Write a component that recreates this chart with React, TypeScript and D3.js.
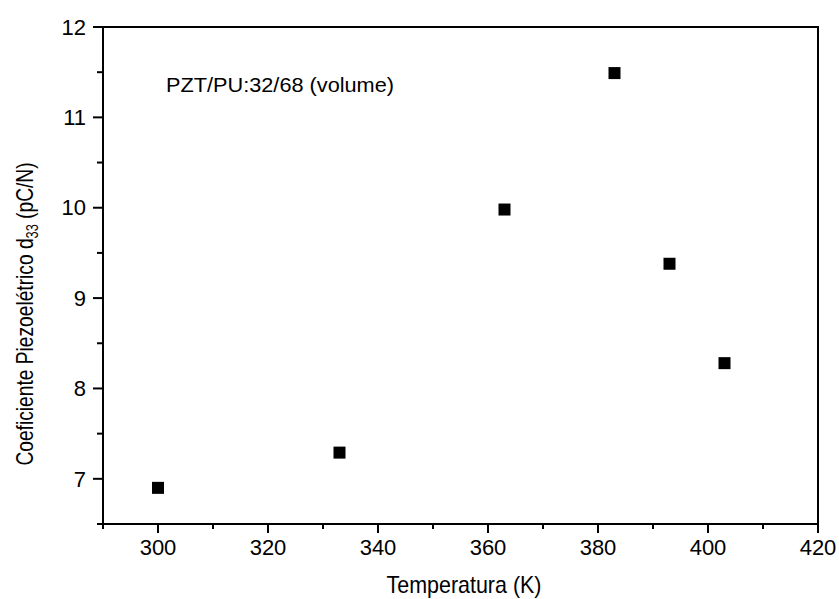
import React from 'react'
import * as d3 from 'd3'

// temperatura (K) e d33 (pC/N)
const TEMPERATURES = [300, 333, 363, 383, 393, 403]
const D33 = [6.9, 7.29, 9.98, 11.49, 9.38, 8.28]

const X_TICKS = [300, 320, 340, 360, 380, 400, 420]
const X_MINOR = [290, 310, 330, 350, 370, 390, 410]
const Y_TICKS = [7, 8, 9, 10, 11, 12]
const Y_MINOR = [6.5, 7.5, 8.5, 9.5, 10.5, 11.5]

const SERIES_LABEL = 'PZT/PU:32/68 (volume)'
const X_TITLE = 'Temperatura (K)'

const W = 839
const H = 599
const box = { left: 103, right: 818, top: 27, bottom: 524 }
const font = 'Liberation Sans, Arial, Helvetica, sans-serif'

export default function App() {
  const x = d3.scaleLinear().domain([290, 420]).range([box.left, box.right])
  const y = d3.scaleLinear().domain([6.5, 12]).range([box.bottom, box.top])

  const points = TEMPERATURES.map((t, i) => ({ t, v: D33[i] }))
  const size = 12

  return (
    <svg
      width={W}
      height={H}
      style={{ position: 'absolute', left: 0, top: 0, background: '#fff' }}
      fontFamily={font}
    >
      <rect width={W} height={H} fill="#fff" />

      {/* frame */}
      <rect
        x={box.left}
        y={box.top}
        width={box.right - box.left}
        height={box.bottom - box.top}
        fill="none"
        stroke="#000"
        strokeWidth={2}
      />

      {/* ticks, out of the frame */}
      <g stroke="#000" strokeWidth={2}>
        {X_TICKS.map(t => (
          <line key={'xM' + t} x1={x(t)} x2={x(t)} y1={box.bottom} y2={box.bottom + 9} />
        ))}
        {X_MINOR.map(t => (
          <line key={'xm' + t} x1={x(t)} x2={x(t)} y1={box.bottom} y2={box.bottom + 5} />
        ))}
        {Y_TICKS.map(t => (
          <line key={'yM' + t} x1={box.left - 10} x2={box.left} y1={y(t)} y2={y(t)} />
        ))}
        {Y_MINOR.map(t => (
          <line key={'ym' + t} x1={box.left - 6} x2={box.left} y1={y(t)} y2={y(t)} />
        ))}
      </g>

      <g fontSize={22} fill="#000">
        {X_TICKS.map(t => (
          <text key={'xl' + t} x={x(t)} y={555} textAnchor="middle">
            {t}
          </text>
        ))}
        {Y_TICKS.map(t => (
          <text key={'yl' + t} x={86} y={y(t)} dy="0.35em" textAnchor="end">
            {t}
          </text>
        ))}
      </g>

      <text
        x={464}
        y={593}
        fontSize={24}
        textAnchor="middle"
        textLength={155}
        lengthAdjust="spacingAndGlyphs"
      >
        {X_TITLE}
      </text>

      <text
        transform="translate(33,314) rotate(-90) scale(0.8,1)"
        fontSize={24}
        textAnchor="middle"
      >
        Coeficiente Piezoelétrico d
        <tspan fontSize={16} dy={5}>33</tspan>
        <tspan dy={-5}> (pC/N)</tspan>
      </text>

      <text x={166} y={92} fontSize={20} textLength={228} lengthAdjust="spacingAndGlyphs">
        {SERIES_LABEL}
      </text>

      <g fill="#000">
        {points.map(p => (
          <rect
            key={p.t}
            x={x(p.t) - size / 2}
            y={y(p.v) - size / 2}
            width={size}
            height={size}
          />
        ))}
      </g>
    </svg>
  )
}
